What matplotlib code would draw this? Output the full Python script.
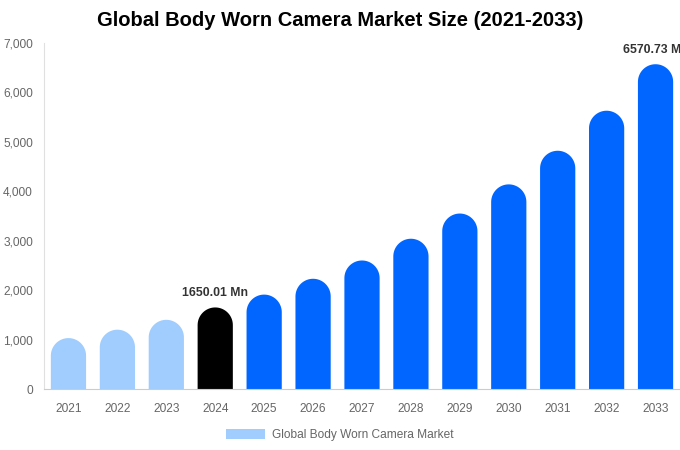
import matplotlib
matplotlib.use("Agg")
import numpy as np
import matplotlib.pyplot as plt
from matplotlib.patches import PathPatch, Patch
from matplotlib.path import Path
from matplotlib.ticker import FuncFormatter

years = ["2021", "2022", "2023", "2024", "2025", "2026", "2027",
         "2028", "2029", "2030", "2031", "2032", "2033"]
values = [1030, 1200, 1400, 1650.01, 1910, 2230, 2600, 3040, 3550,
          4140, 4820, 5630, 6570.73]
labels = {3: "1650.01 Mn", 12: "6570.73 Mn"}
legend_label = "Global Body Worn Camera Market"
title = "Global Body Worn Camera Market Size (2021-2033)"

LIGHT = "#a0cdfd"
DARK = "#0066ff"
BLACK = "#000000"
colors = [LIGHT] * 3 + [BLACK] + [DARK] * 9

plt.rcParams['font.family'] = ['Liberation Sans', 'DejaVu Sans']

W, H = 680, 450
fig = plt.figure(figsize=(W / 100, H / 100), dpi=100)
ax = fig.add_axes([44 / W, 61 / H, 636 / W, 346 / H])
ax.set_xlim(-0.5, len(years) - 0.5)
ax.set_ylim(0, 7000)

bw = 0.72
px_per_x = 636 / len(years)
px_per_y = 346 / 7000
r_px = bw * px_per_x / 2
ry = r_px / px_per_y
theta = np.linspace(0, np.pi, 40)


def rounded_bar(x, v):
    rx = bw / 2
    yc = v - ry
    arc = [(x + rx * np.cos(t), yc + ry * np.sin(t)) for t in theta]
    verts = [(x - rx, 0), (x + rx, 0)] + arc + [(x - rx, 0)]
    codes = [Path.MOVETO] + [Path.LINETO] * (len(verts) - 2) + [Path.CLOSEPOLY]
    return Path(verts, codes)


for i, (v, c) in enumerate(zip(values, colors)):
    ax.add_patch(PathPatch(rounded_bar(i, v), facecolor=c, edgecolor='none',
                           linewidth=0))
    if i in labels:
        ax.annotate(labels[i], (i, v), xytext=(0, 6), textcoords='offset points',
                    ha='center', va='bottom', fontsize=8.8, fontweight='bold',
                    color='#333333', annotation_clip=False)

ax.set_xticks(range(len(years)))
ax.set_xticklabels(years)
ax.set_yticks(range(0, 7001, 1000))
ax.yaxis.set_major_formatter(FuncFormatter(lambda v, p: f"{int(v):,}"))
ax.tick_params(axis='both', length=0, colors='#666666', labelsize=8.6)
ax.tick_params(axis='x', pad=10)
ax.tick_params(axis='y', pad=8)
for s in ['top', 'right']:
    ax.spines[s].set_visible(False)
ax.spines['left'].set_color('#e0e0e0')
ax.spines['bottom'].set_color('#cccccc')

fig.text(340 / W, 1 - 21 / H, title, ha='center', va='center',
         fontsize=14.5, fontweight='bold', color='#000000')

handle = Patch(facecolor=LIGHT, edgecolor='none')
fig.legend([handle], [legend_label], loc='center', bbox_to_anchor=(340 / W, 1 - 435 / H),
           frameon=False, fontsize=8.6, labelcolor='#666666', handlelength=3.2,
           handleheight=1.0, handletextpad=0.6)

fig.savefig("out.png", dpi=100)
